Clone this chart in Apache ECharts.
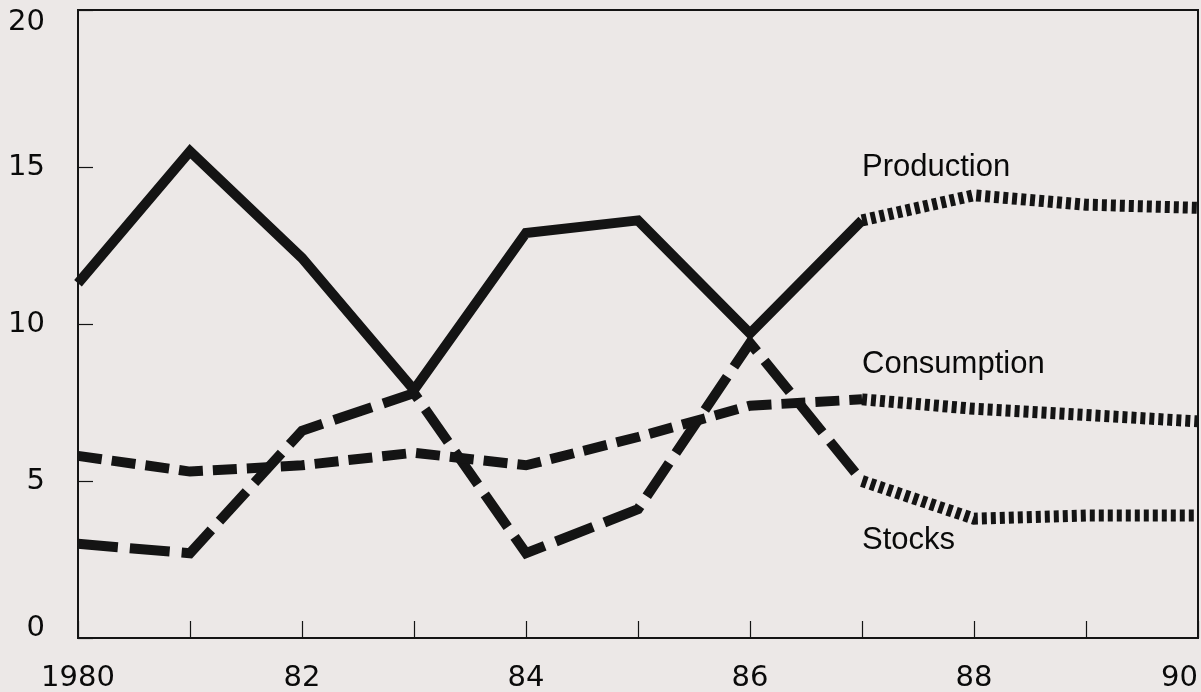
<!DOCTYPE html>
<html>
<head>
<meta charset="utf-8">
<script src="https://cdn.jsdelivr.net/npm/echarts@6/dist/echarts.min.js"></script>
<style>
html,body{margin:0;padding:0;background:#ece8e7;}
#c{width:1201px;height:692px;}
</style>
</head>
<body>
<div id="c"></div>
<script>
// ---- data ----
const years = [1980,1981,1982,1983,1984,1985,1986,1987,1988,1989,1990];
const production  = [11.3,15.5,12.1,7.9,12.9,13.3,9.7,13.3,14.1,13.8,13.7];
const consumption = [5.8,5.3,5.5,5.9,5.5,6.4,7.4,7.6,7.3,7.1,6.9];
const stocks      = [3.0,2.7,6.6,7.8,2.7,4.1,9.4,5.0,3.8,3.9,3.9];
const xTickLabels = ['1980','','82','','84','','86','','88','','90'];
const yTickLabels = ['0','5','10','15','20'];
const seriesNames = ['Production','Consumption','Stocks'];
const labelYear = 1987;
const labelValues = [15.0, 8.7, 3.1];
const splitYear = 1987; // actual data through 1987, projections after

const ink = '#141414';
function pairs(vals, from, to){
  const out=[];
  years.forEach((y,i)=>{ if(y>=from && y<=to) out.push([y, vals[i]]); });
  return out;
}
function seg(name, vals, dash, z){
  const base = {
    type:'line', name, symbol:'none', silent:true, z,
    animation:false
  };
  const a = Object.assign({}, base, {
    data: pairs(vals, years[0], splitYear),
    lineStyle:{color:ink, width:10, type: dash, cap:'butt', join:'miter'}
  });
  const b = Object.assign({}, base, {
    data: pairs(vals, splitYear, years[years.length-1]),
    lineStyle:{color:ink, width:12, type:[5,4], cap:'butt', join:'miter'}
  });
  return [a,b];
}
const series = [].concat(
  seg('Stocks', stocks, [40,12], 3),
  seg('Consumption', consumption, [24,10], 4),
  seg('Production', production, 'solid', 5)
);
series.push({
  type:'scatter', data:[], silent:true,
  markPoint:{
    symbol:'circle', symbolSize:0, silent:true, animation:false,
    label:{show:true, position:'right', distance:0, color:'#0a0a0a',
      fontFamily:'Liberation Sans, Arial, sans-serif', fontSize:31,
      formatter: p => p.name},
    data: seriesNames.map((n,i)=>({name:n, coord:[labelYear, labelValues[i]]}))
  }
});

const lblFont = {color:'#0a0a0a', fontFamily:'DejaVu Sans, sans-serif', fontSize:29};
const chart = echarts.init(document.getElementById('c'), null, {renderer:'canvas'});
chart.setOption({
  backgroundColor:'#ece8e7',
  animation:false,
  grid:{left:78, right:3, top:10, bottom:54, containLabel:false, outerBoundsMode:'none',
    show:true, borderColor:ink, borderWidth:2, backgroundColor:'transparent'},
  xAxis:{
    type:'value', min:1980, max:1990, interval:1,
    axisLine:{show:true, lineStyle:{color:ink, width:2}},
    axisTick:{show:true, inside:true, length:17, lineStyle:{color:ink, width:1.2}},
    splitLine:{show:false},
    axisLabel:Object.assign({show:true, margin:26, hideOverlap:false, alignMaxLabel:'right',
      formatter: v => xTickLabels[years.indexOf(Math.round(v))] || ''
    }, lblFont)
  },
  yAxis:{
    type:'value', min:0, max:20, interval:5,
    axisLine:{show:true, lineStyle:{color:ink, width:2}},
    axisTick:{show:true, inside:true, length:15, lineStyle:{color:ink, width:1.2}},
    splitLine:{show:false},
    axisLabel:Object.assign({show:true, margin:33,
      formatter: v => {
        const i = Math.round(v/5);
        const t = yTickLabels[i];
        if (i === 0) return '{lo|'+t+'}';
        if (i === yTickLabels.length-1) return '{hi|'+t+'}';
        return t;
      },
      rich:{
        lo:Object.assign({padding:[0,0,20,0]}, lblFont),
        hi:Object.assign({padding:[24,0,0,0]}, lblFont)
      }
    }, lblFont)
  },
  series
});
</script>
</body>
</html>
